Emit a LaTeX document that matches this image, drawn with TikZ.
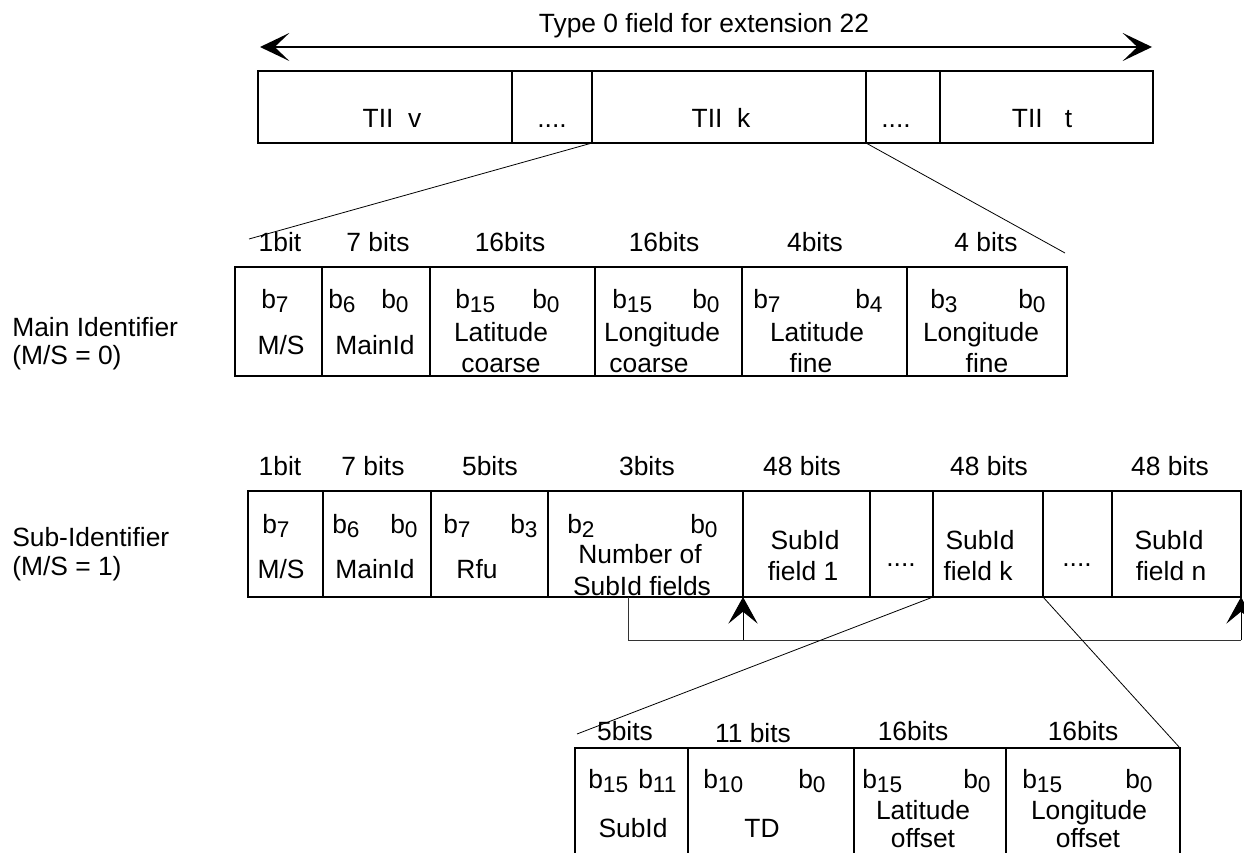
\documentclass[tikz,border=0pt]{standalone}
\usepackage{fontspec}
\setmainfont{Liberation Sans}
\usetikzlibrary{arrows.meta}
\newcommand\bsub[1]{b\raisebox{-3.3pt}{\fontsize{17}{18}\selectfont #1}}
\newcommand\fieldcell[5]{\node[cellbox, anchor=north west, minimum width={(#4-#2)*0.75pt}, minimum height={(#5-#3)*0.75pt}] (#1) at (#2,#3) {};}
\begin{document}
\begin{tikzpicture}[x=0.75pt,y=-0.75pt, font=\fontsize{19.8}{22}\selectfont,
 cellbox/.style={draw, line width=1.5pt, inner sep=0pt, outer sep=0pt},
 txt/.style={inner sep=0pt, anchor=base},
 bl/.style={inner sep=0pt, anchor=base west},
 thinline/.style={line width=0.6pt},
 brace/.style={line width=0.7pt, draw=black!80},
 bigarrow/.style={line width=1.5pt, {Stealth[length=22pt,width=21pt,inset=11pt]}-{Stealth[length=22pt,width=21pt,inset=11pt]}},
 uparrow/.style={line width=0.7pt, -{Stealth[length=20pt,width=22pt,inset=9pt]}}]
\clip (0,0) rectangle (1244,852);
\fill[white] (0,0) rectangle (1244,852);
% ---------- top ----------
\node[txt] (title) at (704,33) {Type 0 field for extension 22};
\coordinate (aL) at (260,47);
\coordinate (aR) at (1152,47);
\draw[bigarrow] (aL) -- (aR);
\fieldcell{tv}{258}{71}{512}{143}
\fieldcell{tda}{512}{71}{592}{143}
\fieldcell{tk}{592}{71}{866}{143}
\fieldcell{tdb}{866}{71}{940}{143}
\fieldcell{tt}{940}{71}{1153}{143}
\node[txt] (tvT) at (392,128) {TII\ \ v};
\node[txt] (tdaT) at (552,128) {....};
\node[txt] (tkT) at (721,128) {TII\ \ k};
\node[txt] (tdbT) at (896,128) {....};
\node[txt] (ttT) at (1042,128) {TII\ \ \ t};
\coordinate (zlA) at (249,239);
\coordinate (zrA) at (1065,253);
\draw[thinline] (tk.south west) -- (zlA);
\draw[thinline] (tk.south east) -- (zrA);
% ---------- main identifier ----------
\node[bl] (mainA) at (12,336) {Main Identifier};
\node[bl] (mainB) at (12,364) {(M/S = 0)};
\fieldcell{ma}{235}{267}{322}{376}
\fieldcell{mb}{322}{267}{430}{376}
\fieldcell{mc}{430}{267}{595}{376}
\fieldcell{md}{595}{267}{742}{376}
\fieldcell{me}{742}{267}{907}{376}
\fieldcell{mf}{907}{267}{1067}{376}
\node[txt] (mla) at (280,252) {1bit};
\node[txt] (mlb) at (378,252) {7 bits};
\node[txt] (mlc) at (510,252) {16bits};
\node[txt] (mld) at (664,252) {16bits};
\node[txt] (mle) at (815,252) {4bits};
\node[txt] (mlf) at (986,252) {4 bits};
\node[bl] (mab) at (261,308) {\bsub{7}};
\node[txt] (mat) at (281,354) {M/S};
\node[bl] (mbb1) at (328,308) {\bsub{6}};
\node[bl] (mbb2) at (381,308) {\bsub{0}};
\node[txt] (mbt) at (375,354) {MainId};
\node[bl] (mcb1) at (455,308) {\bsub{15}};
\node[bl] (mcb2) at (532,308) {\bsub{0}};
\node[txt] (mct1) at (501,341) {Latitude};
\node[txt] (mct2) at (501,372) {coarse};
\node[bl] (mdb1) at (612,308) {\bsub{15}};
\node[bl] (mdb2) at (692,308) {\bsub{0}};
\node[txt] (mdt1) at (662,341) {Longitude};
\node[txt] (mdt2) at (649,372) {coarse};
\node[bl] (meb1) at (753,308) {\bsub{7}};
\node[bl] (meb2) at (855,308) {\bsub{4}};
\node[txt] (met1) at (817,341) {Latitude};
\node[txt] (met2) at (811,372) {fine};
\node[bl] (mfb1) at (930,308) {\bsub{3}};
\node[bl] (mfb2) at (1018,308) {\bsub{0}};
\node[txt] (mft1) at (981,341) {Longitude};
\node[txt] (mft2) at (987,372) {fine};
% ---------- sub identifier ----------
\node[bl] (subA) at (12,546) {Sub-Identifier};
\node[bl] (subB) at (12,575) {(M/S = 1)};
\fieldcell{sa}{248}{491}{323}{597}
\fieldcell{sb}{323}{491}{431}{597}
\fieldcell{sc}{431}{491}{548}{597}
\fieldcell{sd}{548}{491}{743}{597}
\fieldcell{se}{743}{491}{870}{597}
\fieldcell{sf}{870}{491}{933}{597}
\fieldcell{sg}{933}{491}{1043}{597}
\fieldcell{sh}{1043}{491}{1112}{597}
\fieldcell{si}{1112}{491}{1241}{597}
\node[txt] (sla) at (280,475) {1bit};
\node[txt] (slb) at (373,475) {7 bits};
\node[txt] (slc) at (490,475) {5bits};
\node[txt] (sld) at (647,475) {3bits};
\node[txt] (sle) at (802,475) {48 bits};
\node[txt] (slg) at (989,475) {48 bits};
\node[txt] (sli) at (1170,475) {48 bits};
\node[bl] (sab) at (262,533) {\bsub{7}};
\node[txt] (sat) at (281,578) {M/S};
\node[bl] (sbb1) at (332,533) {\bsub{6}};
\node[bl] (sbb2) at (390,533) {\bsub{0}};
\node[txt] (sbt) at (375,578) {MainId};
\node[bl] (scb1) at (443,533) {\bsub{7}};
\node[bl] (scb2) at (510,533) {\bsub{3}};
\node[txt] (sct) at (477,578) {Rfu};
\node[bl] (sdb1) at (567,533) {\bsub{2}};
\node[bl] (sdb2) at (690,533) {\bsub{0}};
\node[txt] (sdt1) at (640,563) {Number of};
\node[txt] (sdt2) at (642,595) {SubId fields};
\node[txt] (set1) at (805,549) {SubId};
\node[txt] (set2) at (803,580) {field 1};
\node[txt] (sft) at (901,566) {....};
\node[txt] (sgt1) at (980,549) {SubId};
\node[txt] (sgt2) at (978,580) {field k};
\node[txt] (sht) at (1077,566) {....};
\node[txt] (sit1) at (1169,549) {SubId};
\node[txt] (sit2) at (1171,580) {field n};
\coordinate (bk0) at (628,597);
\coordinate (bk1) at (628,640);
\coordinate (bk2) at (1241,640);
\coordinate (bk3) at (743,640);
\draw[brace] (bk0) -- (bk1) -- (bk2);
\draw[uparrow] (bk3) -- (se.south west);
\draw[uparrow] (bk2) -- (si.south east);
% ---------- SubId field ----------
\fieldcell{ba}{575}{748}{688}{880}
\fieldcell{bb}{688}{748}{854}{880}
\fieldcell{bc}{854}{748}{1006}{880}
\fieldcell{bd}{1006}{748}{1180}{880}
\coordinate (zlB) at (577,734);
\draw[thinline] (sg.south west) -- (zlB);
\draw[thinline] (sg.south east) -- (bd.north east);
\node[txt] (bla) at (625,740) {5bits};
\node[txt] (blb) at (753,742) {11 bits};
\node[txt] (blc) at (913,740) {16bits};
\node[txt] (bld) at (1083,740) {16bits};
\node[bl] (bab1) at (588,788) {\bsub{15}};
\node[bl] (bab2) at (638,788) {\bsub{11}};
\node[txt] (bat) at (633,837) {SubId};
\node[bl] (bbb1) at (703,788) {\bsub{10}};
\node[bl] (bbb2) at (798,788) {\bsub{0}};
\node[txt] (bbt) at (762,837) {TD};
\node[bl] (bcb1) at (862,788) {\bsub{15}};
\node[bl] (bcb2) at (963,788) {\bsub{0}};
\node[txt] (bct1) at (923,819) {Latitude};
\node[txt] (bct2) at (923,847) {offset};
\node[bl] (bdb1) at (1022,788) {\bsub{15}};
\node[bl] (bdb2) at (1125,788) {\bsub{0}};
\node[txt] (bdt1) at (1089,819) {Longitude};
\node[txt] (bdt2) at (1088,847) {offset};
\end{tikzpicture}
\end{document}
